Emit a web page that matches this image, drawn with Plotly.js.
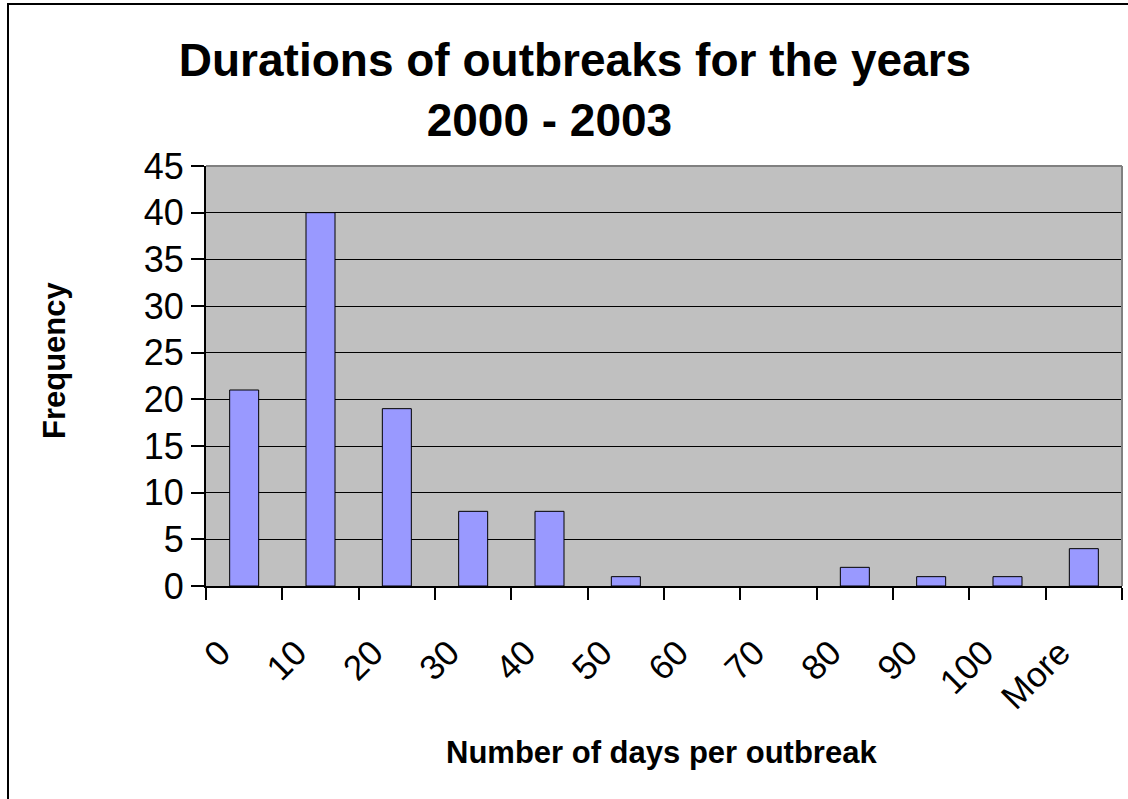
<!DOCTYPE html>
<html>
<head>
<meta charset="utf-8">
<script src="https://cdn.plot.ly/plotly-3.0.1.min.js"></script>
<style>
  html, body { margin: 0; padding: 0; background: #ffffff; }
  #chart { width: 1128px; height: 799px; }
</style>
</head>
<body>
<div id="chart"></div>
<script>
const categories = ['0', '10', '20', '30', '40', '50', '60', '70', '80', '90', '100', 'More'];
const frequency = [21, 40, 19, 8, 8, 1, 0, 0, 2, 1, 1, 4];
const chartTitle = 'Durations of outbreaks for the years<br>2000 - 2003\u00a0\u00a0\u00a0\u00a0';
const xTitle = 'Number of days per outbreak';
const yTitle = 'Frequency';

const FONT = 'Liberation Sans, Arial, Helvetica, sans-serif';

const trace = {
  type: 'bar',
  x: categories,
  y: frequency,
  marker: {
    color: '#9999ff',
    line: { color: '#000000', width: frequency.map(v => (v > 0 ? 1 : 0)) }
  },
  hoverinfo: 'x+y'
};

const layout = {
  width: 1128,
  height: 799,
  margin: { l: 206, r: 6, t: 166, b: 213, pad: 0 },
  paper_bgcolor: '#ffffff',
  plot_bgcolor: '#c0c0c0',
  font: { family: FONT, color: '#000000' },
  showlegend: false,
  bargap: 0.62,
  title: {
    text: '<b>' + chartTitle + '</b>',
    font: { family: FONT, size: 46, color: '#000000' },
    xref: 'container', x: 575 / 1128, xanchor: 'center',
    yref: 'container', y: 1 - 76 / 799, yanchor: 'top'
  },
  xaxis: {
    type: 'category',
    tickson: 'boundaries',
    ticks: 'outside', ticklen: 12, tickwidth: 2, tickcolor: '#000000',
    showline: true, linecolor: '#000000', linewidth: 2,
    showgrid: false, zeroline: false,
    tickangle: -45,
    tickfont: { family: FONT, size: 35, color: '#000000' },
    ticklabelshift: -24,
    ticklabelstandoff: 30
  },
  yaxis: {
    range: [0, 45], dtick: 5, tick0: 0,
    ticks: 'outside', ticklen: 13, tickwidth: 2, tickcolor: '#000000',
    showline: true, linecolor: '#000000', linewidth: 2,
    showgrid: true, gridcolor: '#000000', gridwidth: 1,
    zeroline: false,
    tickfont: { family: FONT, size: 36, color: '#000000' }
  },
  annotations: [
    {
      text: '<b>' + xTitle + '</b>',
      xref: 'paper', yref: 'paper',
      x: (661.5 - 206) / 916, y: (586 - 752) / 420,
      xanchor: 'center', yanchor: 'middle', showarrow: false,
      font: { family: FONT, size: 31, color: '#000000' }
    },
    {
      text: '<b>' + yTitle + '</b>',
      xref: 'paper', yref: 'paper',
      x: (54 - 206) / 916, y: (586 - 360) / 420,
      xanchor: 'center', yanchor: 'middle', showarrow: false, textangle: -90,
      font: { family: FONT, size: 31, color: '#000000' }
    }
  ],
  shapes: [
    { type: 'line', xref: 'paper', yref: 'paper', x0: 0, x1: 1, y0: 1, y1: 1,
      line: { color: '#808080', width: 2 }, layer: 'above' },
    { type: 'line', xref: 'paper', yref: 'paper', x0: 1, x1: 1, y0: 0, y1: 1,
      line: { color: '#808080', width: 2 }, layer: 'above' },
    { type: 'rect', xref: 'paper', yref: 'paper',
      x0: (8 - 206) / 916, x1: (1200 - 206) / 916,
      y0: (586 - 900) / 420, y1: (586 - 4) / 420,
      line: { color: '#000000', width: 2 }, fillcolor: 'rgba(0,0,0,0)', layer: 'above' }
  ]
};

Plotly.newPlot('chart', [trace], layout, { displayModeBar: false, staticPlot: true });
</script>
</body>
</html>
